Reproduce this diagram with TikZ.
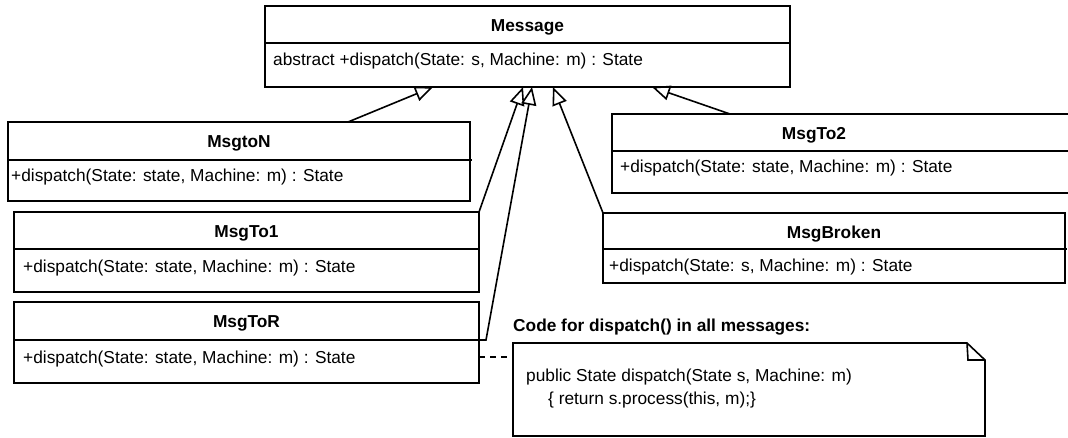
\documentclass[tikz,border=0pt]{standalone}
\usepackage{fontspec}
\setmainfont{Liberation Sans}
\usetikzlibrary{arrows.meta,calc}
\begin{document}
\begin{tikzpicture}[x=1pt,y=-1pt,
 umlbox/.style={draw, line width=1.6pt, anchor=north west, inner sep=0pt, outer sep=0pt},
 umlarea/.style={anchor=north west, inner sep=0pt, outer sep=0pt},
 ln/.style={line width=1.6pt},
 ttl/.style={font=\fontsize{17.3}{20}\selectfont\bfseries, anchor=base, inner sep=0pt},
 txt/.style={font=\fontsize{17.3}{20}\selectfont, anchor=base west, inner sep=0pt},
 gen/.style={line width=1.6pt, -{Triangle[open, length=18pt, width=15pt]}},
 dep/.style={line width=1.6pt, dash pattern=on 6pt off 5pt}]
\useasboundingbox (0,0) rectangle (1068,437);

% Message
\node[umlbox, minimum width=525pt, minimum height=81pt] (message) at (265,6) {};
\draw[ln] ($(message.north west)+(0,37)$) -- ($(message.north east)+(0,37)$);
\node[ttl] (messageT) at ($(message.north)+(0,25)$) {Message};
\node[txt] (messageB) at ($(message.north west)+(8,59.5)$) {abstract +dispatch(State: s, Machine: m) : State};

% MsgtoN
\node[umlbox, minimum width=462pt, minimum height=79pt] (msgton) at (8,122) {};
\draw[ln] ($(msgton.north west)+(0,38)$) -- ($(msgton.north east)+(2,38)$);
\node[ttl] (msgtonT) at ($(msgton.north)+(0,25)$) {MsgtoN};
\node[txt] (msgtonB) at ($(msgton.north west)+(3,59.5)$) {+dispatch(State: state, Machine: m) : State};

% MsgTo1
\node[umlbox, minimum width=465pt, minimum height=80pt] (msgto1) at (14,212) {};
\draw[ln] ($(msgto1.north west)+(0,37)$) -- ($(msgto1.north east)+(0,37)$);
\node[ttl] (msgto1T) at ($(msgto1.north)+(0,25)$) {MsgTo1};
\node[txt] (msgto1B) at ($(msgto1.north west)+(9,60.5)$) {+dispatch(State: state, Machine: m) : State};

% MsgToR
\node[umlbox, minimum width=465pt, minimum height=81pt] (msgtor) at (14,302) {};
\draw[ln] ($(msgtor.north west)+(0,38)$) -- ($(msgtor.north east)+(0,38)$);
\node[ttl] (msgtorT) at ($(msgtor.north)+(0,25)$) {MsgToR};
\node[txt] (msgtorB) at ($(msgtor.north west)+(9,61)$) {+dispatch(State: state, Machine: m) : State};

% MsgTo2 (cut by the right edge)
\node[umlarea, minimum width=460pt, minimum height=79pt] (msgto2) at (612,114) {};
\draw[ln] (msgto2.north east) -- (msgto2.north west) -- (msgto2.south west) -- (msgto2.south east);
\draw[ln] ($(msgto2.north west)+(0,37)$) -- ($(msgto2.north east)+(0,37)$);
\node[ttl] (msgto2T) at ($(msgto2.north west)+(202,25)$) {MsgTo2};
\node[txt] (msgto2B) at ($(msgto2.north west)+(8,58.5)$) {+dispatch(State: state, Machine: m) : State};

% MsgBroken
\node[umlbox, minimum width=462pt, minimum height=70pt] (msgbroken) at (603,213) {};
\draw[ln] ($(msgbroken.north west)+(0,36)$) -- ($(msgbroken.north east)+(2,36)$);
\node[ttl] (msgbrokenT) at ($(msgbroken.north)+(0,25)$) {MsgBroken};
\node[txt] (msgbrokenB) at ($(msgbroken.north west)+(6,58)$) {+dispatch(State: s, Machine: m) : State};

% Note
\node[umlarea, minimum width=472pt, minimum height=93pt] (note) at (513,343) {};
\draw[ln] (note.north west) -- ($(note.north east)+(-18,0)$) -- ($(note.north east)+(0,17)$) -- (note.south east) -- (note.south west) -- cycle;
\draw[ln] ($(note.north east)+(-18,0)$) -- ($(note.north east)+(-17,17)$) -- ($(note.north east)+(0,17)$);
\node[ttl, anchor=base west] (noteT) at ($(note.north west)+(0,-12)$) {Code for dispatch() in all messages:};
\node[txt] (noteL1) at ($(note.north west)+(13,38)$) {public State dispatch(State s, Machine: m)};
\node[txt] (noteL2) at ($(note.north west)+(35,61)$) {\{ return s.process(this, m);\}};

% Generalizations
\draw[gen] ($(msgton.north west)+(340,0)$) -- ($(message.south west)+(168,0)$);
\draw[gen] (msgto1.north east) -- ($(message.south west)+(258,0)$);
\draw[gen] ($(msgtor.north east)+(0,38)$) -- ++(7,0) -- ($(message.south west)+(267,0)$);
\draw[gen] (msgbroken.north west) -- ($(message.south west)+(288,0)$);
\draw[gen] ($(msgto2.north west)+(118,0)$) -- ($(message.south west)+(387,0)$);

% Note link
\draw[dep] ($(msgtor.north east)+(0,55)$) -- ($(note.north west)+(0,14)$);
\end{tikzpicture}
\end{document}
